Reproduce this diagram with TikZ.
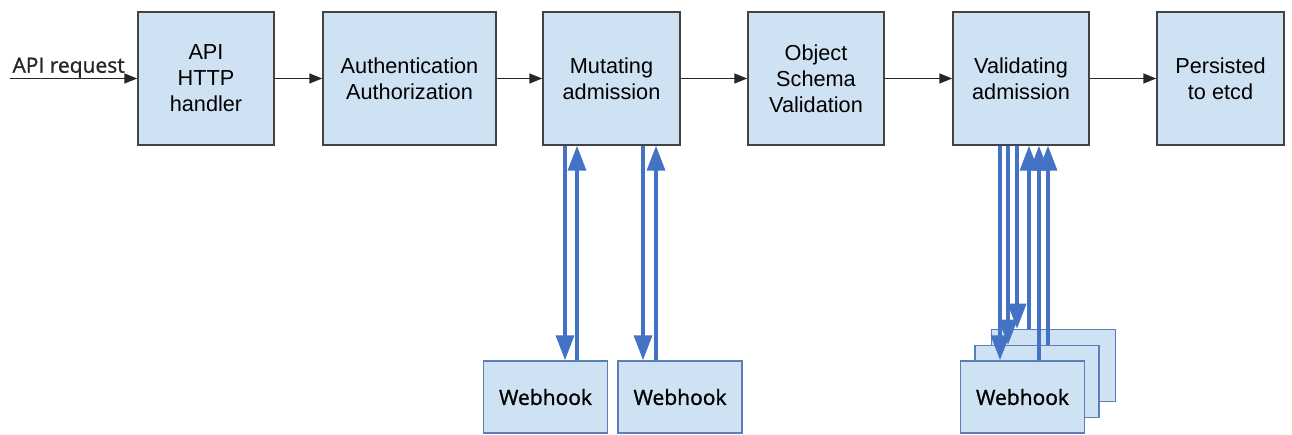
\documentclass[tikz,border=0pt]{standalone}
\usepackage{fontspec}
\setmainfont{Liberation Sans}
\newfontfamily\hookfont[FakeBold=1.2]{Open Sans}
\usetikzlibrary{arrows.meta}
\definecolor{boxfill}{HTML}{CFE2F3}
\definecolor{boxline}{HTML}{434343}
\definecolor{hookline}{HTML}{5B7DB8}
\definecolor{hookblue}{HTML}{4472C4}

\begin{document}
\begin{tikzpicture}[
            x=1pt, y=-1pt,
            stage/.style={draw=boxline, line width=1.5pt, fill=boxfill, minimum height=133pt, inner sep=0pt, align=center, font=\fontsize{21.7}{26}\selectfont},
            hookbox/.style={draw=hookline, line width=1.5pt, fill=boxfill, minimum width=124pt, minimum height=72pt, inner sep=0pt, font=\hookfont\fontsize{21}{25}\selectfont},
            flow/.style={-{Triangle[length=13pt,width=10pt]}, line width=1.5pt, color=black!85},
            call/.style={-{Triangle[length=25pt,width=18pt]}, line width=3.5pt, color=hookblue},
            ]
            \useasboundingbox (0, 0) rectangle (1292, 435);
            % pipeline
            \node[stage, minimum width=136pt] (api) at (206, 78.5) {API\\HTTP\\handler};
            \node[stage, minimum width=173pt] (auth) at (409.5, 78.5) {Authentication\\Authorization};
            \node[stage, minimum width=137pt] (mut) at (611.5, 78.5) {Mutating\\admission};
            \node[stage, minimum width=136pt] (schema) at (816, 78.5) {Object\\Schema\\Validation};
            \node[stage, minimum width=136pt] (val) at (1021, 78.5) {Validating\\admission};
            \node[stage, minimum width=127pt] (etcd) at (1220.5, 78.5) {Persisted\\to etcd};

            \coordinate (in) at (10, 78.5);
            \draw[flow] (in) -- node[above, inner sep=0pt, xshift=-5pt, font=\hookfont\fontsize{21}{25}\selectfont] {API request} (api.west);
            \draw[flow] (api) -- (auth);
            \draw[flow] (auth) -- (mut);
            \draw[flow] (mut) -- (schema);
            \draw[flow] (schema) -- (val);
            \draw[flow] (val) -- (etcd);

            % webhooks
            \node[hookbox] (mhook1) at (545.5, 397) {Webhook};
            \node[hookbox] (mhook2) at (680, 397) {Webhook};
            \node[hookbox] (vhook3) at (1053.5, 365.5) {};
            \node[hookbox] (vhook2) at (1037, 381.5) {};
            \node[hookbox] (vhook1) at (1022.5, 397) {Webhook};

            \draw[call] ([xshift=19.5pt]mhook1.north |- mut.south) -- ([xshift=19.5pt]mhook1.north);
            \draw[call] ([xshift=31.5pt]mhook1.north) -- ([xshift=31.5pt]mhook1.north |- mut.south);
            \draw[call] ([xshift=-37pt]mhook2.north |- mut.south) -- ([xshift=-37pt]mhook2.north);
            \draw[call] ([xshift=-24pt]mhook2.north) -- ([xshift=-24pt]mhook2.north |- mut.south);

            \draw[call] ([xshift=-22.5pt]vhook1.north |- val.south) -- ([xshift=-22.5pt]vhook1.north);
            \draw[call] ([xshift=-29pt]vhook2.north |- val.south) -- ([xshift=-29pt]vhook2.north);
            \draw[call] ([xshift=-36.5pt]vhook3.north |- val.south) -- ([xshift=-36.5pt]vhook3.north);
            \draw[call] ([xshift=-24.5pt]vhook3.north) -- ([xshift=-24.5pt]vhook3.north |- val.south);
            \draw[call] ([xshift=16.5pt]vhook1.north) -- ([xshift=16.5pt]vhook1.north |- val.south);
            \draw[call] ([xshift=11pt]vhook2.north) -- ([xshift=11pt]vhook2.north |- val.south);
        \end{tikzpicture}
\end{document}
